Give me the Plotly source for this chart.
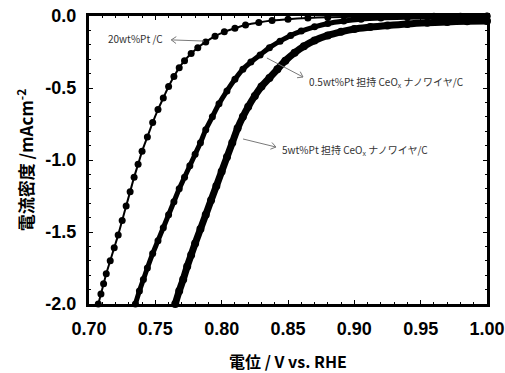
import math
import plotly.graph_objects as go

# 20wt%Pt/C
pt20_v = [0.707,0.709,0.711,0.713,0.716,0.719,0.722,0.725,0.728,0.731,0.734,0.737,0.740,0.744,0.748,0.752,0.756,0.760,0.764,0.768,0.772,0.777,0.782,0.788,0.795,0.802,0.810,0.818,0.828,0.838,0.850,0.865,0.880,0.900,0.920,0.940,0.960,0.980,1.000]
pt20_j = [-2.00,-1.93,-1.86,-1.79,-1.70,-1.61,-1.52,-1.42,-1.32,-1.22,-1.12,-1.03,-0.94,-0.84,-0.74,-0.65,-0.57,-0.49,-0.42,-0.36,-0.31,-0.26,-0.22,-0.18,-0.14,-0.11,-0.085,-0.063,-0.045,-0.032,-0.022,-0.014,-0.009,-0.006,-0.004,-0.003,-0.002,-0.001,0.000]

# 0.5wt%Pt on CeOx nanowire / C
pt05_v = [0.735,0.738,0.741,0.744,0.748,0.752,0.756,0.760,0.764,0.768,0.772,0.776,0.780,0.784,0.788,0.793,0.798,0.804,0.810,0.816,0.822,0.829,0.836,0.844,0.852,0.860,0.870,0.880,0.892,0.905,0.920,0.940,0.960,0.980,1.000]
pt05_j = [-2.00,-1.91,-1.83,-1.75,-1.65,-1.56,-1.47,-1.38,-1.29,-1.20,-1.12,-1.04,-0.96,-0.88,-0.79,-0.70,-0.61,-0.52,-0.44,-0.37,-0.32,-0.27,-0.22,-0.175,-0.135,-0.105,-0.075,-0.052,-0.035,-0.022,-0.014,-0.009,-0.006,-0.004,-0.002]

# 5wt%Pt on CeOx nanowire / C
pt5_v = [0.765,0.768,0.771,0.774,0.777,0.780,0.784,0.788,0.792,0.796,0.800,0.804,0.808,0.812,0.816,0.820,0.825,0.830,0.836,0.842,0.848,0.855,0.862,0.870,0.880,0.890,0.900,0.912,0.925,0.940,0.955,0.970,0.985,1.000]
pt5_j = [-2.00,-1.91,-1.83,-1.74,-1.66,-1.58,-1.48,-1.38,-1.28,-1.18,-1.08,-0.98,-0.88,-0.78,-0.70,-0.63,-0.555,-0.49,-0.43,-0.37,-0.31,-0.255,-0.21,-0.17,-0.135,-0.11,-0.09,-0.077,-0.066,-0.055,-0.047,-0.041,-0.037,-0.034]

x_ticks = [0.70, 0.75, 0.80, 0.85, 0.90, 0.95, 1.00]
x_ticklabels = ["0.70", "0.75", "0.80", "0.85", "0.90", "0.95", "1.00"]
y_ticks = [0.0, -0.5, -1.0, -1.5, -2.0]
y_ticklabels = ["0.0", "-0.5", "-1.0", "-1.5", "-2.0"]

label_texts = ["20wt%Pt /C",
               "0.5wt%Pt 担持 CeO<sub>x</sub> ナノワイヤ/C",
               "5wt%Pt 担持 CeO<sub>x</sub> ナノワイヤ/C"]

W, H = 505, 373
M = dict(l=89, r=18, t=16, b=69)
X_RANGE = [0.70, 1.00]
Y_RANGE = [-2.0, 0.0]
px_per_x = (W - M["l"] - M["r"]) / (X_RANGE[1] - X_RANGE[0])
px_per_y = (H - M["t"] - M["b"]) / (Y_RANGE[1] - Y_RANGE[0])

fig = go.Figure()
fig.add_trace(go.Scatter(x=pt5_v, y=pt5_j, mode="lines+markers",
                         line=dict(color="black", width=7, shape="spline"),
                         marker=dict(color="black", size=8), cliponaxis=False))
fig.add_trace(go.Scatter(x=pt05_v, y=pt05_j, mode="lines+markers",
                         line=dict(color="black", width=5, shape="spline"),
                         marker=dict(color="black", size=7), cliponaxis=False))
fig.add_trace(go.Scatter(x=pt20_v, y=pt20_j, mode="lines+markers",
                         line=dict(color="black", width=2, shape="spline"),
                         marker=dict(color="black", size=7), cliponaxis=False))

ann_font = dict(family="Noto Sans CJK JP", size=10, color="#333333")
annotations = [
    dict(x=0.7573, y=-0.153, text=label_texts[0], showarrow=False, xanchor="right", yanchor="middle", font=ann_font),
    dict(x=0.8640, y=-0.458, text=label_texts[1], showarrow=False, xanchor="left", yanchor="middle", font=ann_font),
    dict(x=0.8439, y=-0.931, text=label_texts[2], showarrow=False, xanchor="left", yanchor="middle", font=ann_font),
]

# arrows: (tail, tip) positions for the leader lines
arrows = [((0.7867, -0.174), (0.7620, -0.166)),
          ((0.8341, -0.2917), (0.8613, -0.4236)),
          ((0.8161, -0.854), (0.8409, -0.910))]
arrow_col = "#7a7a7a"
shapes = []
for (sx, sy), (tx, ty) in arrows:
    shapes.append(dict(type="line", xref="x", yref="y", x0=sx, y0=sy, x1=tx, y1=ty,
                       line=dict(color=arrow_col, width=1)))
    dx = (sx - tx) * px_per_x
    dy = (sy - ty) * px_per_y
    n = math.hypot(dx, dy)
    ux, uy = dx / n, dy / n
    for ang in (math.radians(35), math.radians(-35)):
        wx = 6 * (ux * math.cos(ang) - uy * math.sin(ang))
        wy = 6 * (ux * math.sin(ang) + uy * math.cos(ang))
        shapes.append(dict(type="line", xref="x", yref="y",
                           xsizemode="pixel", ysizemode="pixel",
                           xanchor=tx, yanchor=ty, x0=0, y0=0, x1=wx, y1=wy,
                           line=dict(color=arrow_col, width=1)))

tickfont = dict(family="Liberation Sans", size=18, color="black", weight="bold")
fig.update_layout(
    width=W, height=H,
    margin=M,
    paper_bgcolor="white", plot_bgcolor="white",
    showlegend=False,
    annotations=annotations,
    shapes=shapes,
    xaxis=dict(range=X_RANGE, tickvals=x_ticks, ticktext=x_ticklabels, automargin=False,
               showline=True, linecolor="black", linewidth=3, mirror="ticks",
               ticks="inside", ticklen=4, tickwidth=1, tickcolor="black",
               minor=dict(ticks="inside", ticklen=2, dtick=0.01, tickcolor="black"),
               showgrid=False, zeroline=False, tickfont=tickfont, ticklabelstandoff=6,
               title=dict(text="電位 / V vs. RHE", standoff=22,
                          font=dict(family="Noto Sans CJK JP", size=16, color="black", weight="bold"))),
    yaxis=dict(range=Y_RANGE, tickvals=y_ticks, ticktext=y_ticklabels, automargin=False,
               showline=True, linecolor="black", linewidth=3, mirror="ticks",
               ticks="inside", ticklen=4, tickwidth=1, tickcolor="black",
               minor=dict(ticks="inside", ticklen=2, dtick=0.1, tickcolor="black"),
               showgrid=False, zeroline=False, tickfont=tickfont, ticklabelstandoff=6,
               title=dict(text="電流密度 /mAcm<sup>-2</sup>", standoff=8,
                          font=dict(family="Noto Sans CJK JP", size=17, color="black", weight="bold"))),
)

fig.write_html("out.html")
